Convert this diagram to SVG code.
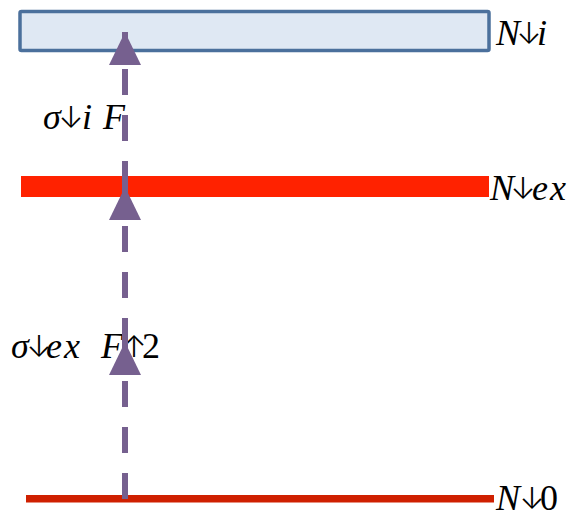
<svg xmlns="http://www.w3.org/2000/svg" width="579" height="515" viewBox="0 0 579 515">
  <style>
    .lbl { font-family: "Liberation Serif", "Times New Roman", serif; font-style: italic; font-size: 36px; fill: #000; }
    .up { font-style: normal; }
    .ar { font-family: Inter, "DejaVu Sans", sans-serif; font-style: normal; font-weight: 300; font-size: 30px; fill: #000; }
    .conn { stroke: #76608f; stroke-width: 6; fill: none; stroke-dasharray: 26 20; stroke-linecap: butt; }
  </style>
  <defs>
    <marker id="tri" viewBox="0 0 33 32" markerUnits="userSpaceOnUse" markerWidth="33" markerHeight="32" refX="33" refY="16" orient="auto">
      <path d="M0,0 L33,16 L0,32 Z" fill="#76608f"/>
    </marker>
  </defs>

  <g id="level-i">
    <rect x="20" y="11.5" width="469" height="39" rx="1.5" fill="#dfe8f3" stroke="#4b709c" stroke-width="3.5"/>
    <text class="lbl" y="45"><tspan x="496">N</tspan><tspan x="537">i</tspan></text>
    <text class="ar" x="529" y="44" text-anchor="middle">↓</text>
  </g>

  <g id="level-ex">
    <rect x="21" y="176" width="468" height="21" fill="#ff2200"/>
    <text class="lbl" y="200"><tspan x="490">N</tspan><tspan x="532">e</tspan><tspan x="550">x</tspan></text>
    <text class="ar" x="523" y="199" text-anchor="middle">↓</text>
  </g>

  <g id="level-0">
    <rect x="26" y="495" width="468" height="7.5" fill="#cf2000"/>
    <text class="lbl" y="510"><tspan x="496">N</tspan><tspan class="up" x="540">0</tspan></text>
    <text class="ar" x="532" y="509" text-anchor="middle">↓</text>
  </g>

  <g id="label-i">
    <text class="lbl" y="129"><tspan x="43">σ</tspan><tspan x="82">i</tspan><tspan x="103">F</tspan></text>
    <text class="ar" x="71" y="128" text-anchor="middle">↓</text>
  </g>

  <g id="label-ex">
    <text class="lbl" y="358"><tspan x="11">σ</tspan><tspan x="46">e</tspan><tspan x="64">x</tspan><tspan x="101">F</tspan><tspan class="up" x="142">2</tspan></text>
    <text class="ar" x="39" y="357" text-anchor="middle">↓</text>
    <text class="ar" x="134" y="357" text-anchor="middle">↑</text>
  </g>

  <g id="connectors">
    <path class="conn" d="M125,499 L125,342" marker-end="url(#tri)"/>
    <path class="conn" d="M125,344 L125,187" marker-end="url(#tri)"/>
    <path class="conn" d="M125,187 L125,32" marker-end="url(#tri)"/>
  </g>
</svg>
